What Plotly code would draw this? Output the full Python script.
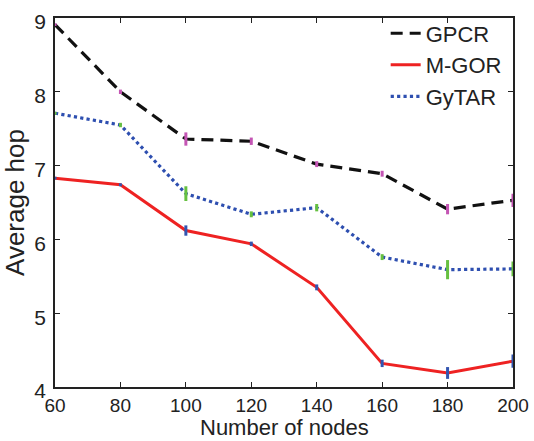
import plotly.graph_objects as go

nodes = [60, 80, 100, 120, 140, 160, 180, 200]

gpcr = [8.91, 8.00, 7.36, 7.33, 7.02, 6.89, 6.41, 6.53]
gpcr_err = [0.02, 0.03, 0.09, 0.05, 0.04, 0.04, 0.07, 0.09]

mgor = [6.83, 6.74, 6.12, 5.94, 5.35, 4.32, 4.19, 4.35]
mgor_err = [0.02, 0.02, 0.07, 0.03, 0.04, 0.05, 0.08, 0.09]

gytar = [7.71, 7.55, 6.62, 6.34, 6.43, 5.76, 5.59, 5.60]
gytar_err = [0.02, 0.03, 0.10, 0.04, 0.05, 0.04, 0.13, 0.10]

x_ticks = [60, 80, 100, 120, 140, 160, 180, 200]
y_ticks = [4, 5, 6, 7, 8, 9]

FONT = "Liberation Sans, Arial, sans-serif"
TXT = "#222222"

fig = go.Figure()

series = [
    ("GPCR", gpcr, gpcr_err, "#111111", "12px,7px", 3.2, "#c455b4"),
    ("M-GOR", mgor, mgor_err, "#ee2222", "solid", 3.0, "#3355b0"),
    ("GyTAR", gytar, gytar_err, "#2e4fb0", "dot", 3.2, "#66c040"),
]

for name, ys, errs, color, dash, w, ecol in series:
    fig.add_trace(go.Scatter(
        x=nodes, y=ys, mode="lines", name=name,
        line=dict(color=color, dash=dash, width=w),
    ))

for name, ys, errs, color, dash, w, ecol in series:
    fig.add_trace(go.Scatter(
        x=nodes, y=ys, mode="markers", showlegend=False,
        marker=dict(size=1, color=ecol, opacity=0),
        error_y=dict(type="data", array=errs, visible=True,
                     color=ecol, thickness=3, width=0),
        hoverinfo="skip",
    ))

fig.update_layout(
    width=534, height=441,
    margin=dict(l=55, r=21, t=16, b=54),
    paper_bgcolor="white", plot_bgcolor="white",
    font=dict(family=FONT, color=TXT),
    showlegend=True,
    legend=dict(
        x=0.722, y=1.015, xanchor="left", yanchor="top",
        bgcolor="rgba(0,0,0,0)", borderwidth=0,
        font=dict(size=22, family=FONT, color=TXT),
        tracegroupgap=0, itemwidth=30,
    ),
    annotations=[dict(
        text="Number of nodes", xref="paper", yref="paper",
        x=0.5, y=-0.109, xanchor="center", yanchor="middle",
        showarrow=False, borderpad=0,
        font=dict(size=22, family=FONT, color=TXT),
    )],
)

fig.update_xaxes(
    range=[60, 200], tickvals=x_ticks, ticktext=[str(v) for v in x_ticks],
    ticks="inside", ticklen=5, tickcolor="#222", tickwidth=1,
    showline=True, linecolor="#222", linewidth=1.5, mirror="ticks",
    showgrid=False, zeroline=False, automargin=False,
    ticklabelstandoff=0,
    tickfont=dict(size=19, family=FONT, color=TXT),
)
fig.update_yaxes(
    range=[4, 9], tickvals=y_ticks, ticktext=[str(v) for v in y_ticks],
    ticks="inside", ticklen=5, tickcolor="#222", tickwidth=1,
    showline=True, linecolor="#222", linewidth=1.5, mirror="ticks",
    showgrid=False, zeroline=False, automargin=False,
    ticklabelstandoff=3, ticklabelshift=4,
    tickfont=dict(size=21, family=FONT, color=TXT),
    title=dict(text="Average hop", font=dict(size=26, family=FONT, color=TXT), standoff=4),
)

fig.write_html("out.html")
